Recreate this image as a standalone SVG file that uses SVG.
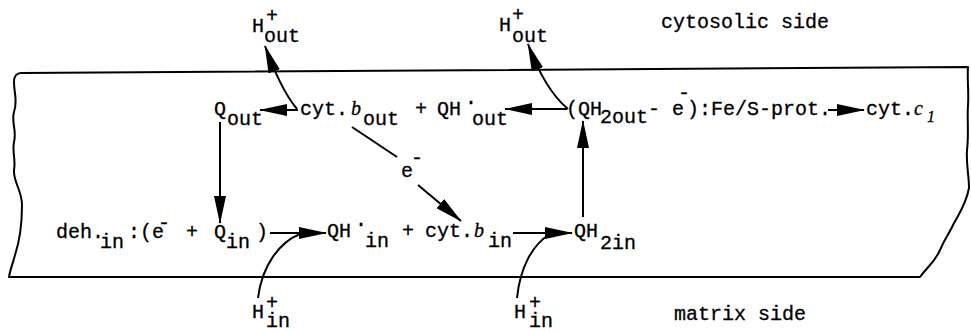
<svg xmlns="http://www.w3.org/2000/svg" width="971" height="332" viewBox="0 0 971 332">
<style>
text{font-family:"Liberation Mono","Courier New",monospace;font-size:20px;fill:#000;stroke:#000;stroke-width:0.3}
.i{font-family:"Liberation Serif","Times New Roman",serif;font-style:italic}
.ln{fill:none;stroke:#000;stroke-width:2}
.mem{fill:none;stroke:#000;stroke-width:2;stroke-linejoin:round}
</style>
<defs>
<marker id="ah" markerUnits="userSpaceOnUse" markerWidth="28" markerHeight="12" refX="27" refY="6" orient="auto">
<path d="M0,0 L28,6 L0,12 z" fill="#000"/>
</marker>
</defs>
<rect width="971" height="332" fill="#fff"/>
<path class="mem" d="M21,73 L968,67 C967,80 969,92 968,105 C967,120 969,135 967,150 C966,165 969,175 969,188 C966,205 958,215 953,225 C950,232 945,238 940,250 C935,262 928,266 920,277 L9,277 C10,270 13,263 15,255 C20,240 22,225 22,205 C22,190 13,182 14,170 C16,160 12,152 14,142 C17,130 11,122 14,112 C18,100 14,95 14,82 C14,76 17,73 21,73 Z"/>
<text x="661" y="28">cytosolic side</text>
<text x="674" y="320">matrix side</text>
<g id="connectors">
<path class="ln" d="M297,109 Q281,90 265,46" marker-end="url(#ah)"/>
<path class="ln" d="M568,109 Q545,90 528,44" marker-end="url(#ah)"/>
<path class="ln" d="M298,110 L260,110" marker-end="url(#ah)"/>
<path class="ln" d="M567,109 L505,109" marker-end="url(#ah)"/>
<path class="ln" d="M828,110 L864,110" marker-end="url(#ah)"/>
<path class="ln" d="M220,122 L220,223" marker-end="url(#ah)"/>
<path class="ln" d="M583,217 L583,121" marker-end="url(#ah)"/>
<path class="ln" d="M270,233 L326,233" marker-end="url(#ah)"/>
<path class="ln" d="M513,233 L572,233" marker-end="url(#ah)"/>
<path class="ln" d="M258,298 C262,265 280,242 300,234"/>
<path class="ln" d="M517,298 C520,268 532,245 550,234"/>
<path class="ln" d="M352,127 L397,157"/>
<path class="ln" d="M418,185 L461,221" marker-end="url(#ah)"/>
</g>
<g id="h-out-left"><text x="252" y="32">H<tspan x="266" y="22">+</tspan><tspan x="264" y="42">out</tspan></text></g>
<g id="h-out-right"><text x="499" y="31">H<tspan x="512" y="21">+</tspan><tspan x="512" y="42">out</tspan></text></g>
<g id="q-out"><text x="214" y="115">Q<tspan x="227" y="125">out</tspan></text></g>
<g id="cytb-out"><text x="300" y="115">cyt.<tspan class="i" x="351" y="115">b</tspan><tspan x="363" y="125">out</tspan></text></g>
<text x="415" y="115">+</text>
<g id="qh-out"><text x="437" y="115">QH<tspan x="465" y="104">.</tspan><tspan x="472" y="125">out</tspan></text></g>
<g id="qh2out-fes"><text x="566" y="115">(QH<tspan x="600" y="123">2out</tspan><tspan x="648" y="115">- e</tspan><tspan x="678" y="99">-</tspan><tspan x="687" y="115">):Fe/S-prot.</tspan></text></g>
<g id="cytc1"><text x="866" y="115">cyt.<tspan class="i" x="914" y="115">c</tspan><tspan class="i" x="927" y="122" font-size="16">1</tspan></text></g>
<g id="electron"><text x="401" y="177">e<tspan x="411" y="164">-</tspan></text></g>
<g id="deh-in"><text x="56" y="238">deh.<tspan x="100" y="248">in</tspan><tspan x="128" y="238">:(e</tspan><tspan x="158" y="229">-</tspan><tspan x="186" y="238">+</tspan><tspan x="214" y="238">Q</tspan><tspan x="226" y="248">in</tspan><tspan x="256" y="238">)</tspan></text></g>
<g id="qh-in"><text x="327" y="237">QH<tspan x="355" y="226">.</tspan><tspan x="365" y="247">in</tspan></text></g>
<text x="402" y="237">+</text>
<g id="cytb-in"><text x="425" y="237">cyt.<tspan class="i" x="474" y="237">b</tspan><tspan x="488" y="247">in</tspan></text></g>
<g id="qh2in"><text x="574" y="237">QH<tspan x="600" y="249">2in</tspan></text></g>
<g id="h-in-left"><text x="252" y="318">H<tspan x="266" y="309">+</tspan><tspan x="266" y="327">in</tspan></text></g>
<g id="h-in-right"><text x="514" y="318">H<tspan x="529" y="309">+</tspan><tspan x="529" y="327">in</tspan></text></g>
</svg>
